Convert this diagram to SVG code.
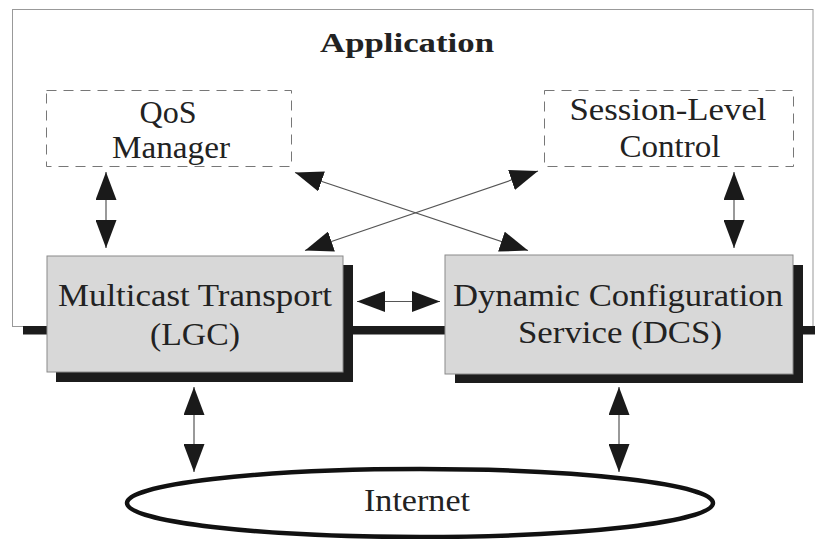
<svg xmlns="http://www.w3.org/2000/svg" width="815" height="539" viewBox="0 0 815 539">
<style>
text{font-family:"Liberation Serif","Times New Roman",serif;font-size:31px;fill:#222;text-anchor:middle}
.title{font-weight:bold;font-size:28px}
.dash{fill:none;stroke:#777;stroke-width:1;stroke-dasharray:10 7}
.box{fill:#d8d8d8;stroke:#8a8a8a;stroke-width:1}
.shadow{fill:#1c1c1c}
.conn{stroke:#555;stroke-width:1.2;fill:none;marker-start:url(#ah);marker-end:url(#ah)}
</style>
<defs>
<marker id="ah" viewBox="0 0 28 21" refX="28" refY="10.5" markerWidth="28" markerHeight="21" markerUnits="userSpaceOnUse" orient="auto-start-reverse">
<path d="M0,0 L28,10.5 L0,21 z" fill="#1a1a1a"/>
</marker>
</defs>
<rect width="815" height="539" fill="#fff"/>
<g id="application">
<rect x="12.5" y="9.5" width="800.5" height="317" fill="none" stroke="#999" stroke-width="1"/>
<text class="title" x="407" y="52" textLength="174" lengthAdjust="spacingAndGlyphs">Application</text>
</g>
<rect id="bus" x="23" y="326" width="792" height="8.5" fill="#1c1c1c"/>
<g id="qos">
<rect class="dash" x="46.5" y="90.5" width="245" height="76"/>
<text x="168" y="123" textLength="57" lengthAdjust="spacingAndGlyphs">QoS</text>
<text x="171" y="158" textLength="118" lengthAdjust="spacingAndGlyphs">Manager</text>
</g>
<g id="session">
<rect class="dash" x="544.5" y="90.5" width="249" height="76"/>
<text x="668" y="120" textLength="197" lengthAdjust="spacingAndGlyphs">Session-Level</text>
<text x="670" y="157" textLength="101" lengthAdjust="spacingAndGlyphs">Control</text>
</g>
<g id="lgc">
<rect class="shadow" x="56" y="265" width="297" height="117"/>
<rect class="box" x="47" y="256" width="296" height="116"/>
<text x="195" y="306" textLength="274" lengthAdjust="spacingAndGlyphs">Multicast Transport</text>
<text x="195" y="345" textLength="90" lengthAdjust="spacingAndGlyphs">(LGC)</text>
</g>
<g id="dcs">
<rect class="shadow" x="455" y="265" width="348" height="118"/>
<rect class="box" x="445" y="255" width="348" height="119"/>
<text x="618" y="306" textLength="330" lengthAdjust="spacingAndGlyphs">Dynamic Configuration</text>
<text x="620" y="343" textLength="204" lengthAdjust="spacingAndGlyphs">Service (DCS)</text>
</g>
<g id="internet">
<ellipse cx="420" cy="503" rx="293" ry="34" fill="#fff" stroke="#111" stroke-width="4.5"/>
<text x="417" y="511" textLength="106" lengthAdjust="spacingAndGlyphs">Internet</text>
</g>
<g id="connectors">
<line class="conn" x1="106" y1="172" x2="106" y2="248"/>
<line class="conn" x1="734" y1="172" x2="734" y2="248"/>
<line class="conn" x1="295" y1="172.5" x2="528" y2="250.5"/>
<line class="conn" x1="305" y1="250.5" x2="538" y2="171"/>
<line class="conn" x1="357" y1="301.5" x2="440" y2="301.5"/>
<line class="conn" x1="194" y1="387" x2="194" y2="472"/>
<line class="conn" x1="619" y1="387" x2="619" y2="472"/>
</g>
</svg>
